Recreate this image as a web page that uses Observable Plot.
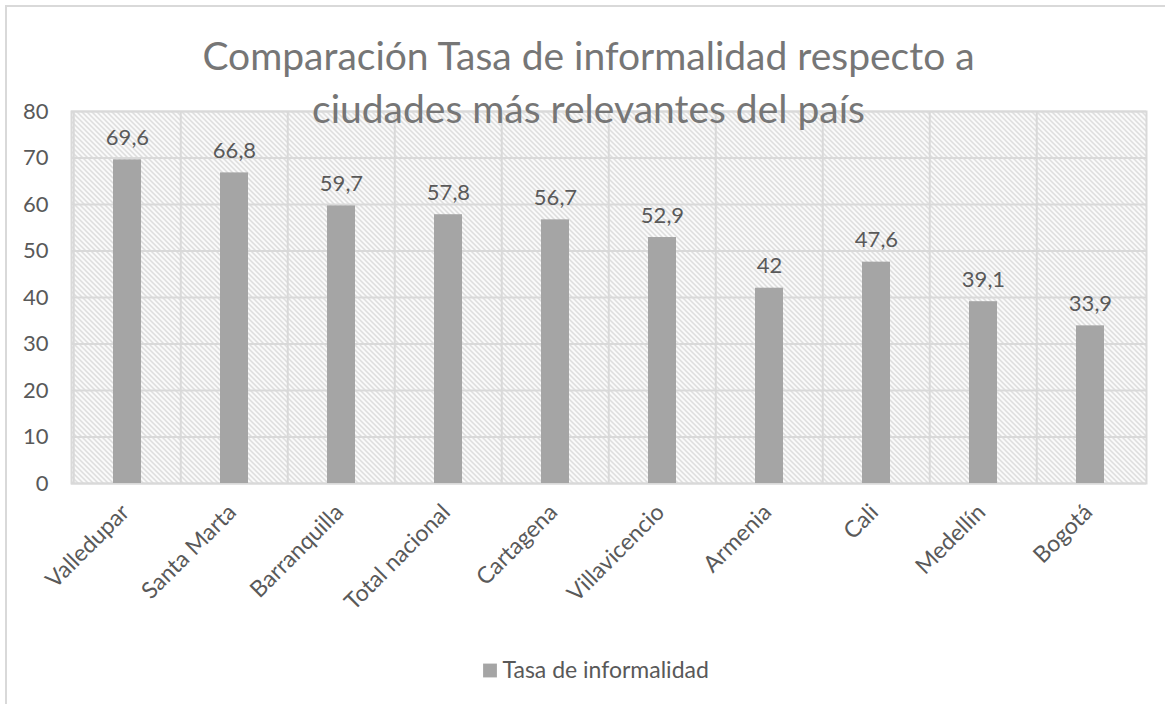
<!DOCTYPE html>
<html>
<head>
<meta charset="utf-8">
<script src="https://cdn.jsdelivr.net/npm/d3@7"></script>
<script src="https://cdn.jsdelivr.net/npm/@observablehq/plot@0.6"></script>
<style>
  html, body { margin: 0; padding: 0; background: #fff; overflow: hidden; }
  #wrap { position: relative; width: 1165px; height: 704px; }
  #border { position: absolute; left: 5px; top: 5px; width: 1200px; height: 800px; border: 2px solid #d9d9d9; box-sizing: border-box; }
  #chart { position: absolute; left: 0; top: 0; }
  #chart svg { font-family: Lato, "Open Sans", sans-serif; }
</style>
</head>
<body>
<div id="wrap"><div id="border"></div><div id="chart"></div></div>
<script>
const categories = ["Valledupar", "Santa Marta", "Barranquilla", "Total nacional", "Cartagena", "Villavicencio", "Armenia", "Cali", "Medellín", "Bogotá"];
const values = [69.6, 66.8, 59.7, 57.8, 56.7, 52.9, 42, 47.6, 39.1, 33.9];
const yTicks = [0, 10, 20, 30, 40, 50, 60, 70, 80];
const titleLines = ["Comparación Tasa de informalidad respecto a", "ciudades más relevantes del país"];
const seriesName = "Tasa de informalidad";

const data = categories.map((c, i) => ({category: c, value: values[i]}));
const fmt = v => String(v).replace(".", ",");

const W = 1165, H = 704;
const mL = 71, mR = 19, mT = 111, mB = 221;
const step = (W - mL - mR) / categories.length;
const cx = (mL + W - mR) / 2;

const gridColor = "#d9d9d9";
const textColor = "#595959";

const plot = Plot.plot({
  width: W,
  height: H,
  marginLeft: mL,
  marginRight: mR,
  marginTop: mT,
  marginBottom: mB,
  style: {background: "transparent", color: textColor, overflow: "visible"},
  x: {domain: categories, paddingInner: 0.74, paddingOuter: 0.37, axis: null, label: null},
  y: {domain: [0, 80], axis: null, label: null},
  marks: [
    Plot.frame({fill: "url(#hatch)", stroke: "none"}),
    Plot.ruleY(yTicks, {y: d => d, stroke: gridColor, strokeWidth: 2}),
    Plot.ruleX(categories, {x: d => d, dx: -step / 2, stroke: gridColor, strokeWidth: 2}),
    Plot.frame({stroke: gridColor, strokeWidth: 2}),
    Plot.barY(data, {x: "category", y: "value", fill: "#a5a5a5"}),
    Plot.text(data, {x: "category", y: "value", text: d => fmt(d.value), dy: -22, fontSize: 22, fill: textColor}),
    Plot.axisY(yTicks, {tickSize: 0, tickPadding: 23, fontSize: 22, fill: textColor, tickFormat: d => d, label: null}),
    Plot.axisX({tickSize: 0, tickPadding: 25, tickRotate: -45, fontSize: 23, fill: textColor, dx: -2, textAnchor: "end", label: null}),
    Plot.text([titleLines[0]], {frameAnchor: "top", text: d => d, dx: 588 - cx, dy: 57 - mT, fontSize: 39, fill: "#767676", lineAnchor: "middle"}),
    Plot.text([titleLines[1]], {frameAnchor: "top", text: d => d, dx: 588 - cx, dy: -1, fontSize: 39, fill: "#767676", lineAnchor: "middle"}),
    Plot.dot([seriesName], {frameAnchor: "bottom", symbol: "square", r: 7.8, fill: "#a5a5a5", stroke: "none", dx: 489.5 - cx, dy: 670 - (H - mB)}),
    Plot.text([seriesName], {frameAnchor: "bottom", text: d => d, textAnchor: "start", dx: 502 - cx, dy: 670 - (H - mB), fontSize: 23, fill: textColor, lineAnchor: "middle"})
  ]
});

// hatch pattern for the plot area
const svg = d3.select(plot);
const defs = svg.insert("defs", ":first-child");
const pat = defs.append("pattern")
  .attr("id", "hatch")
  .attr("patternUnits", "userSpaceOnUse")
  .attr("width", 5)
  .attr("height", 5);
pat.append("rect").attr("width", 5).attr("height", 5).attr("fill", "#ffffff");
pat.append("path")
  .attr("d", "M-1,-1L6,6M-1,4L1,6M4,-1L6,1")
  .attr("stroke", "#d2d2d2")
  .attr("stroke-width", 1.3);

document.getElementById("chart").appendChild(plot);
</script>
</body>
</html>
